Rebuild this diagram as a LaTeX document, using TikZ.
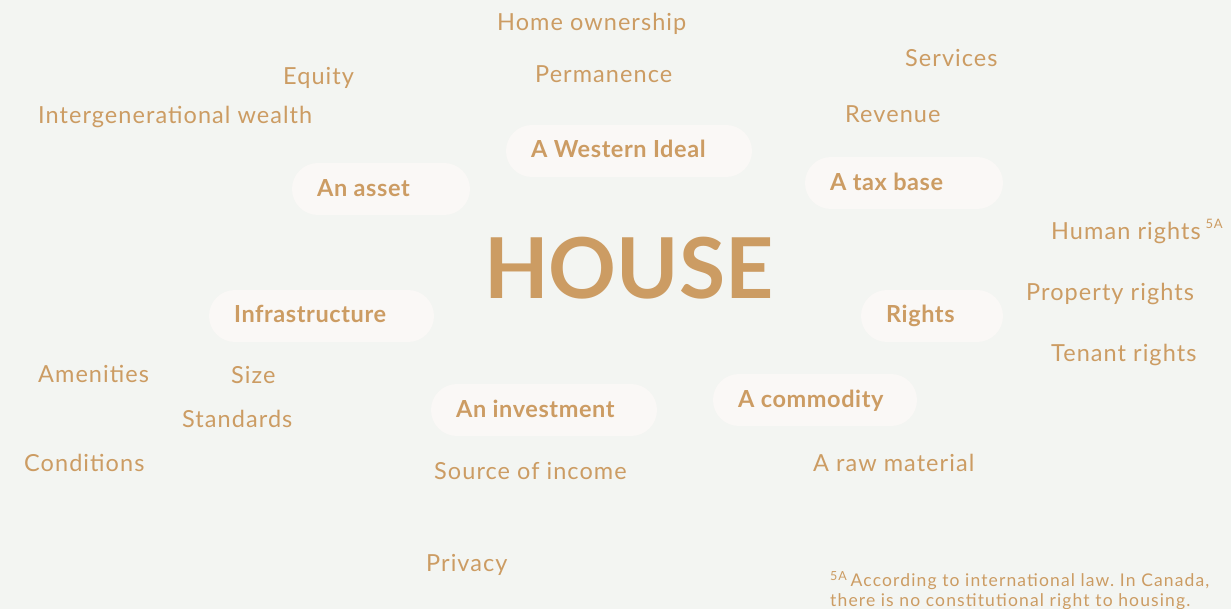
\documentclass[tikz,border=0pt]{standalone}
\usepackage{fontspec}
\setmainfont{Lato}
\newfontfamily\lblfont[LetterSpace=4.5]{Lato}
\newfontfamily\plblfont[LetterSpace=2.5]{Lato}
\newfontfamily\notefont[LetterSpace=6.5]{Lato}
\frenchspacing
\definecolor{bg}{HTML}{F3F5F2}
\definecolor{pill}{HTML}{FAF8F6}
\definecolor{gold}{HTML}{CC9C63}
\begin{document}
\begin{tikzpicture}[x=1pt,y=-1pt,
  lbl/.style={anchor=base west,inner sep=0pt,text=gold,font=\lblfont\fontsize{23.5}{27}\selectfont},
  plbl/.style={anchor=base west,inner sep=0pt,text=gold,font=\plblfont\fontsize{23.5}{27}\selectfont\bfseries},
  pillbox/.style={fill=pill,draw=none,rounded corners=26pt},
  note/.style={anchor=base west,inner sep=0pt,text=gold,font=\notefont\fontsize{17.5}{20}\selectfont,align=left}]
\fill[bg] (0,0) rectangle (1231,609);
\useasboundingbox (0,0) rectangle (1231,609);
% pills
\fill[pillbox] (506,125) rectangle (752,177);
\fill[pillbox] (292,163) rectangle (470,215);
\fill[pillbox] (805,157) rectangle (1003,209);
\fill[pillbox] (209,290) rectangle (434,342);
\fill[pillbox] (861,290) rectangle (1003,342);
\fill[pillbox] (431,384) rectangle (657,436);
\fill[pillbox] (713,374) rectangle (917,426);
\node[plbl] (west) at (531,158) {A Western Ideal};
\node[plbl] (asset) at (317,197) {An asset};
\node[plbl] (tax) at (830,191) {A tax base};
\node[plbl] (infra) at (234,323) {Infrastructure};
\node[plbl] (rights) at (886,323) {Rights};
\node[plbl] (invest) at (456,417) {An investment};
\node[plbl] (commod) at (738,407) {A commodity};
% center
\node[anchor=base west,inner sep=0pt,text=gold,font=\fontsize{84}{90}\selectfont\bfseries] (house) at (484,299) {HOUSE};
% labels
\node[lbl] (home) at (497,31) {Home ownership};
\node[lbl] (perm) at (535,83) {Permanence};
\node[lbl] (equity) at (283,85) {Equity};
\node[lbl] (intergen) at (38,124) {Intergenerational wealth};
\node[lbl] (services) at (905,67) {Services};
\node[lbl] (revenue) at (845,123) {Revenue};
\node[lbl] (human) at (1051,240) {Human rights\hspace{5pt}\raisebox{1.0ex}{\fontsize{13}{15}\selectfont 5A}};
\node[lbl] (property) at (1026,301) {Property rights};
\node[lbl] (tenant) at (1051,362) {Tenant rights};
\node[lbl] (amen) at (38,382) {Amenities};
\node[lbl] (size) at (231,384) {Size};
\node[lbl] (standards) at (182,427) {Standards};
\node[lbl] (cond) at (24,471) {Conditions};
\node[lbl] (source) at (434,479) {Source of income};
\node[lbl] (raw) at (813,471) {A raw material};
\node[lbl] (privacy) at (426,571) {Privacy};
\node[note] (fn1) at (830,586) {\raisebox{0.6ex}{\fontsize{12.5}{14}\selectfont 5A}\hspace{4pt}According to international law. In Canada,};
\node[note] (fn2) at (830,606) {there is no constitutional right to housing.};
\end{tikzpicture}
\end{document}
